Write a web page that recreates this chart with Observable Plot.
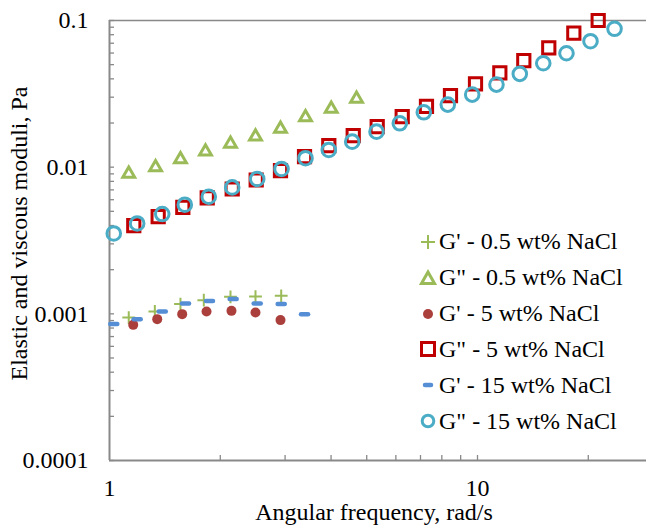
<!DOCTYPE html>
<html><head><meta charset="utf-8">
<script src="https://cdn.jsdelivr.net/npm/d3@7"></script>
<script src="https://cdn.jsdelivr.net/npm/@observablehq/plot@0.6"></script>
<style>
body{margin:0;background:#fff;}
#wrap{position:relative;width:646px;height:526px;overflow:hidden;font-family:"Liberation Serif","Times New Roman",serif;}
#wrap svg text{font-family:"Liberation Serif","Times New Roman",serif;}
#legend .item{position:absolute;display:flex;align-items:center;height:30px;font-size:24px;white-space:nowrap;color:#000;font-family:"Liberation Serif","Times New Roman",serif;}
#legend svg{margin-right:2px;}
</style></head><body><div id="wrap"><div id="legend"></div></div>
<script>
// ---- tick values / labels ----
const xTicks = [1, 10];
const xTickLabels = ["1", "10"];
const yTicks = [0.0001, 0.001, 0.01, 0.1];
const yTickLabels = ["0.0001", "0.001", "0.01", "0.1"];
const xMinorTicks = [2, 3, 4, 5, 6, 7, 8, 9, 10, 20];
const yMinorTicks = [0.0001, 0.0002, 0.0003, 0.0004, 0.0005, 0.0006, 0.0007, 0.0008, 0.0009,
  0.001, 0.002, 0.003, 0.004, 0.005, 0.006, 0.007, 0.008, 0.009,
  0.01, 0.02, 0.03, 0.04, 0.05, 0.06, 0.07, 0.08, 0.09, 0.1];
const xTitle = "Angular frequency, rad/s";
const yTitle = "Elastic and viscous moduli, Pa";

// ---- series names ----
const seriesNames = ["G' - 0.5 wt% NaCl", "G\" - 0.5 wt% NaCl", "G' - 5 wt% NaCl",
  "G\" - 5 wt% NaCl", "G' - 15 wt% NaCl", "G\" - 15 wt% NaCl"];

// ---- data ----
const freqGp05 = [1.128, 1.328, 1.559, 1.804, 2.132, 2.493, 2.928];
const Gp05 = [0.000943, 0.001037, 0.001165, 0.00124, 0.001306, 0.001312, 0.001327];

const freqGpp05 = [1.128, 1.334, 1.559, 1.823, 2.132, 2.493, 2.915, 3.409, 4.004, 4.691];
const Gpp05 = [0.00899, 0.00997, 0.0113, 0.01277, 0.0144, 0.01615, 0.01823, 0.02187, 0.02496, 0.02921];

const freqGp5 = [1.160, 1.348, 1.576, 1.835, 2.145, 2.493, 2.915];
const Gp5 = [0.000841, 0.00092, 0.000995, 0.001037, 0.001048, 0.00102, 0.000906];

const freqGpp5 = [1.164, 1.356, 1.582, 1.843, 2.155, 2.504, 2.915, 3.388, 3.944, 4.595,
  5.339, 6.243, 7.267, 8.445, 9.876, 11.50, 13.36, 15.62, 18.27, 21.28];
const Gpp5 = [0.003989, 0.004594, 0.005316, 0.006164, 0.007097, 0.008176, 0.009465, 0.01179, 0.01402, 0.01641,
  0.01891, 0.02212, 0.026, 0.03076, 0.03697, 0.04396, 0.05333, 0.06513, 0.0819, 0.1];

const freqGp15 = [1.027, 1.189, 1.391, 1.609, 1.869, 2.168, 2.52, 2.928, 3.388];
const Gp15 = [0.000851, 0.00092, 0.001037, 0.001176, 0.001221, 0.00126, 0.001176, 0.001165, 0.000995];

const freqGpp15 = [1.027, 1.189, 1.391, 1.602, 1.861, 2.155, 2.52, 2.934, 3.409, 3.944, 4.566,
  5.316, 6.15, 7.146, 8.304, 9.674, 11.26, 13.03, 15.09, 17.45, 20.28, 23.57];
const Gpp15 = [0.003533, 0.004134, 0.004792, 0.005546, 0.006289, 0.00728, 0.008307, 0.009721, 0.01151, 0.0131, 0.01493,
  0.01747, 0.01991, 0.02366, 0.0267, 0.03125, 0.03656, 0.04326, 0.05111, 0.0598, 0.07224, 0.08776];

// ---- styling ----
const gray = "#898989";
const serif = "Liberation Serif, Times New Roman, serif";
const cGreen = "#9BBB59", cDot = "#AB3F3C", cRed = "#C00000", cBlue = "#558ED5", cCyan = "#4BACC6";

const zip = (xs, ys) => xs.map((x, i) => ({x, y: ys[i]}));
const dashSymbol = {draw(ctx, size) { const w = Math.sqrt(size) / 2; ctx.moveTo(-w, 0); ctx.lineTo(w, 0); }};

const xMap = new Map(xTicks.map((d, i) => [d, xTickLabels[i]]));
const yMap = new Map(yTicks.map((d, i) => [d, yTickLabels[i]]));

const W = 646, H = 526, mL = 109, mR = 0, mT = 20, mB = 66;
const xMax = Math.pow(10, (W - mL - mR) / 368);

const chart = Plot.plot({
  width: W, height: H,
  marginLeft: mL, marginRight: mR, marginTop: mT, marginBottom: mB,
  style: {fontFamily: serif, fontSize: "24px", color: "#000", background: "#fff"},
  x: {type: "log", domain: [1, xMax], axis: null},
  y: {type: "log", domain: [0.0001, 0.1], axis: null},
  marks: [
    Plot.ruleY([0.1], {stroke: gray, strokeWidth: 1.5}),
    Plot.axisX(xMinorTicks, {tickSize: 5, dy: -5, stroke: gray, strokeWidth: 1.3, tickFormat: () => "", label: null}),
    Plot.axisY(yMinorTicks, {tickSize: 5, dx: 5, stroke: gray, strokeWidth: 1.3, tickFormat: () => "", label: null}),
    Plot.axisX(xTicks, {tickSize: 0, tickPadding: 18, tickFormat: d => xMap.get(d), fontSize: 24, fontFamily: serif, fontVariant: "normal", fill: "#000", label: null}),
    Plot.axisY(yTicks, {tickSize: 0, tickPadding: 21, tickFormat: d => yMap.get(d), fontSize: 24, fontFamily: serif, fontVariant: "normal", fill: "#000", label: null}),
    Plot.ruleX([1], {stroke: gray, strokeWidth: 2}),
    Plot.ruleY([0.0001], {stroke: gray, strokeWidth: 2}),
    Plot.text([xTitle], {frameAnchor: "bottom", textAnchor: "middle", lineAnchor: "bottom", dy: 59, dx: -4, fontSize: 24, fontFamily: serif, fill: "#000"}),
    Plot.text([yTitle], {frameAnchor: "left", textAnchor: "middle", rotate: -90, dx: -90, dy: -7, fontSize: 24, fontFamily: serif, fill: "#000"}),
    // series
    Plot.dot(zip(freqGp05, Gp05), {x: "x", y: "y", symbol: "plus", r: 4.2, stroke: cGreen, strokeWidth: 2}),
    Plot.dot(zip(freqGpp05, Gpp05), {x: "x", y: "y", symbol: "triangle", r: 4.4, stroke: cGreen, strokeWidth: 3}),
    Plot.dot(zip(freqGp5, Gp5), {x: "x", y: "y", symbol: "circle", r: 5, fill: cDot, stroke: "none"}),
    Plot.dot(zip(freqGpp5, Gpp5), {x: "x", y: "y", symbol: "square", r: 6.9, stroke: cRed, strokeWidth: 3}),
    Plot.dot(zip(freqGp15, Gp15), {x: "x", y: "y", symbol: dashSymbol, r: 4, stroke: cBlue, strokeWidth: 4.5, strokeLinecap: "round"}),
    Plot.dot(zip(freqGpp15, Gpp15), {x: "x", y: "y", symbol: "circle", r: 6.8, stroke: cCyan, strokeWidth: 3})
  ]
});
document.getElementById("wrap").prepend(chart);

// ---- legend ----
const legendSymbols = [
  `<path d="M2,9H16M9,2V16" stroke="${cGreen}" stroke-width="2" fill="none"/>`,
  `<path d="M9,3L15.5,14.5H2.5Z" stroke="${cGreen}" stroke-width="3" fill="none" stroke-linejoin="miter"/>`,
  `<circle cx="9" cy="9" r="5" fill="${cDot}"/>`,
  `<rect x="2.5" y="2.5" width="13" height="13" stroke="${cRed}" stroke-width="3" fill="none"/>`,
  `<path d="M6,9H12" stroke="${cBlue}" stroke-width="4.5" stroke-linecap="round"/>`,
  `<circle cx="9" cy="9" r="5.8" stroke="${cCyan}" stroke-width="3" fill="none"/>`
];
const legend = document.getElementById("legend");
seriesNames.forEach((name, i) => {
  const div = document.createElement("div");
  div.className = "item";
  div.style.left = "419px";
  div.style.top = (241.7 + 35.9 * i - 15) + "px";
  div.innerHTML = `<svg width="18" height="18" viewBox="0 0 18 18">${legendSymbols[i]}</svg><span>${name}</span>`;
  legend.appendChild(div);
});
</script>
</body></html>
